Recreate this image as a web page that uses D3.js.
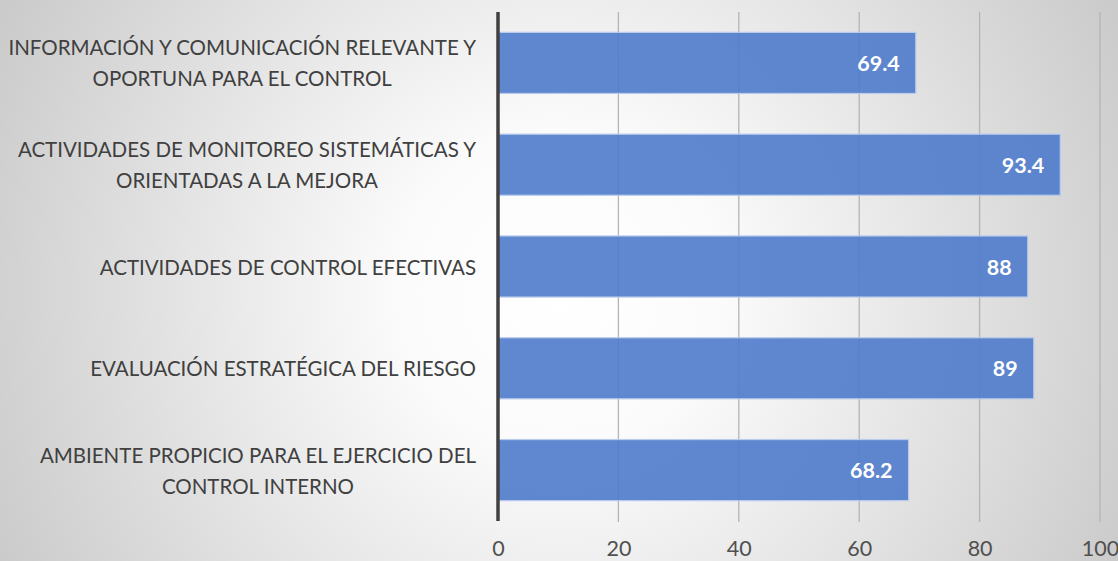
<!DOCTYPE html>
<html><head><meta charset="utf-8">
<script src="https://cdn.jsdelivr.net/npm/d3@7"></script>
<style>html,body{margin:0;padding:0;overflow:hidden;background:#fff}</style>
</head><body>
<svg id="chart" width="1118" height="561"></svg>
<script>
const categories = [
  ["INFORMACIÓN Y COMUNICACIÓN RELEVANTE Y", "OPORTUNA PARA EL CONTROL"],
  ["ACTIVIDADES DE MONITOREO SISTEMÁTICAS Y", "ORIENTADAS A LA MEJORA"],
  ["ACTIVIDADES DE CONTROL EFECTIVAS"],
  ["EVALUACIÓN ESTRATÉGICA DEL RIESGO"],
  ["AMBIENTE PROPICIO PARA EL EJERCICIO DEL", "CONTROL INTERNO"]
];
const values = [69.4, 93.4, 88, 89, 68.2];
const valueLabels = ["69.4", "93.4", "88", "89", "68.2"];
const xTicks = [0, 20, 40, 60, 80, 100];

const W = 1118, H = 561;
const svg = d3.select("#chart");
const defs = svg.append("defs");
const rg = defs.append("radialGradient").attr("id","bg")
  .attr("gradientUnits","userSpaceOnUse").attr("cx",560).attr("cy",290).attr("r",640);
rg.append("stop").attr("offset","0").attr("stop-color","#ffffff");
rg.append("stop").attr("offset","0.25").attr("stop-color","#fbfbfb");
rg.append("stop").attr("offset","1").attr("stop-color","#c9c9c9");
svg.append("rect").attr("width",W).attr("height",H).attr("fill","url(#bg)");

const x = d3.scaleLinear().domain([0,100]).range([498,1100]);
const y = d3.scaleBand().domain(d3.range(categories.length)).range([12,521]).paddingInner(0.4).paddingOuter(0.2);

// gridlines
svg.append("g").selectAll("line").data(xTicks.slice(1)).join("line")
  .attr("x1",d=>x(d)).attr("x2",d=>x(d)).attr("y1",12).attr("y2",522)
  .attr("stroke","#b4b4b4").attr("stroke-width",1.3);

// bars
svg.append("g").selectAll("rect").data(values).join("rect")
  .attr("x",x(0)).attr("y",(d,i)=>y(i)).attr("width",d=>x(d)-x(0)).attr("height",y.bandwidth())
  .attr("fill","#4f7bcb").attr("fill-opacity",0.9)
  .attr("stroke","#b9cbec").attr("stroke-width",1.2);

// value labels
svg.append("g").selectAll("text").data(values).join("text")
  .attr("x",d=>x(d)-16).attr("y",(d,i)=>y(i)+y.bandwidth()/2)
  .attr("text-anchor","end").attr("dominant-baseline","central")
  .attr("font-family","Lato, 'Open Sans', sans-serif").attr("font-weight","bold")
  .attr("font-size",21.5).attr("fill","#ffffff")
  .text((d,i)=>valueLabels[i]);

// axis line
svg.append("line").attr("x1",x(0)).attr("x2",x(0)).attr("y1",12).attr("y2",521)
  .attr("stroke","#404040").attr("stroke-width",3.5);

// x tick labels
const xAxis = d3.axisBottom(x).tickValues(xTicks).tickSize(0).tickPadding(0).tickFormat(d3.format("d"));
const gx = svg.append("g").attr("transform","translate(0,541)").call(xAxis);
gx.select(".domain").remove();
gx.selectAll("text").attr("font-family","Lato, 'Open Sans', sans-serif").attr("font-size",21.5)
  .attr("fill","#505050").attr("dy","0.71em");

// category labels
const gl = svg.append("g");
categories.forEach((lines,i)=>{
  const cy = y(i)+y.bandwidth()/2;
  const lh = 31;
  const t = gl.append("text").attr("font-family","Lato, 'Open Sans', sans-serif")
    .attr("font-size",20.5).attr("fill","#404040");
  const tspans = lines.map((s,j)=> t.append("tspan").attr("text-anchor","middle")
      .attr("y", cy + (j-(lines.length-1)/2)*lh).attr("dominant-baseline","central").text(s));
  let maxW = 0;
  tspans.forEach(ts=>{ maxW = Math.max(maxW, ts.node().getComputedTextLength()); });
  const cx = 476 - maxW/2;
  tspans.forEach(ts=>ts.attr("x",cx));
});
</script>
</body></html>
